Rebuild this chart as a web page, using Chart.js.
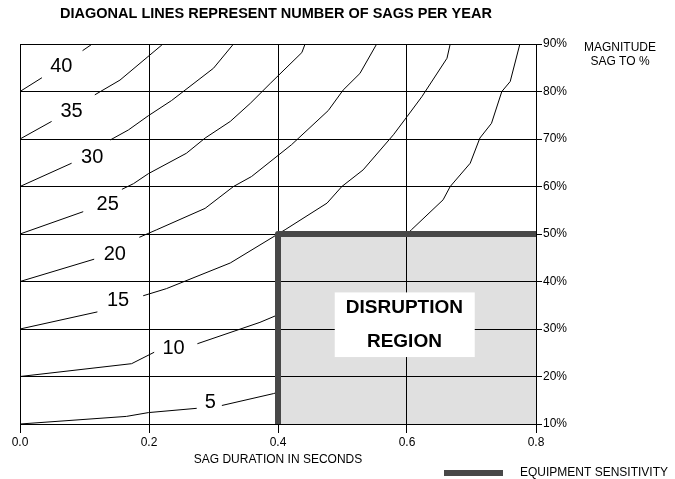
<!DOCTYPE html>
<html>
<head>
<meta charset="utf-8">
<script src="https://cdn.jsdelivr.net/npm/chart.js@4.4.1/dist/chart.umd.min.js"></script>
<style>
  html, body { margin: 0; padding: 0; background: #fff; }
  #wrap { width: 675px; height: 479px; position: relative; }
</style>
</head>
<body>
<div id="wrap"><canvas id="c"></canvas></div>
<script>
const FONT = "'Liberation Sans', Arial, sans-serif";

// sags per year curves: [duration s, magnitude %], null = break for the label
const sag5  = [[0, 10], [0.165, 11.6], [0.199, 12.4], [0.274, 13.3], null, [0.313, 13.9], [0.393, 16.4], [0.4, 16.7]];
const sag10 = [[0, 20], [0.173, 22.7], [0.208, 25.1], null, [0.275, 26.9], [0.372, 31.4], [0.4, 33], null,
               [0.6, 50], [0.607, 50.9], [0.656, 57.2], [0.667, 60], [0.698, 64.9], [0.713, 70.2], [0.731, 73.3],
               [0.747, 80], [0.760, 82.1], [0.775, 90]];
const sag15 = [[0, 30], [0.120, 33.6], null, [0.191, 37.0], [0.227, 38.5], [0.326, 43.9], [0.4, 50], [0.411, 50.9],
               [0.476, 56.5], [0.499, 60], [0.532, 63.5], [0.579, 70.9], [0.6, 74.7], [0.623, 78.9], [0.662, 87.0], [0.667, 90]];
const sag20 = [[0, 40], [0.115, 44.7], null, [0.185, 49.3], [0.212, 50.9], [0.287, 55.4], [0.331, 60], [0.359, 62.1],
               [0.421, 68.8], [0.478, 76.0], [0.501, 80.3], [0.527, 83.8], [0.553, 90]];
const sag25 = [[0, 50], [0.098, 54.7], null, [0.158, 59.4], [0.176, 60.6], [0.199, 62.7], [0.258, 67.0], [0.287, 70.2],
               [0.326, 73.7], [0.357, 77.5], [0.388, 81.7], [0.437, 88.2], [0.442, 90]];
const sag30 = [[0, 60], [0.080, 64.9], null, [0.140, 69.8], [0.168, 71.9], [0.199, 74.9], [0.235, 78.1], [0.300, 84.9], [0.331, 90]];
const sag35 = [[0, 70], [0.049, 73.7], null, [0.116, 79.3], [0.155, 82.4], [0.220, 89.8]];
const sag40 = [[0, 80], [0.034, 82.9], null, [0.097, 88.6], [0.112, 90]];

const sagLabels = ['5', '10', '15', '20', '25', '30', '35', '40'];
const sagLabelX = [0.295, 0.238, 0.152, 0.147, 0.136, 0.112, 0.080, 0.064];
const sagLabelY = [14.5, 26.0, 36.0, 45.7, 56.2, 66.1, 75.7, 85.2];

// equipment sensitivity / disruption region outline
const regionX = [0.4, 0.4, 0.8];
const regionY = [10, 50, 50];
const regionText = ['DISRUPTION', 'REGION'];
const regionTextX = 0.596;
const regionTextY = [34.5, 27.4];
const boxX = [0.488, 0.705];
const boxY = [24.1, 37.7];

const toPts = arr => arr.map((p, i) => p ? { x: p[0], y: p[1] } : { x: arr[i - 1][0], y: null });

const curves = [sag5, sag10, sag15, sag20, sag25, sag30, sag35, sag40].map((arr, i) => ({
  label: sagLabels[i],
  data: toPts(arr),
  borderColor: '#000',
  borderWidth: 1,
  pointRadius: 0,
  fill: false,
  order: 1
}));

const region = {
  label: 'EQUIPMENT SENSITIVITY',
  data: regionX.map((v, i) => ({ x: v, y: regionY[i] })),
  borderColor: '#484848',
  borderWidth: 6,
  borderJoinStyle: 'round',
  backgroundColor: 'rgba(0,0,0,0.12)',
  fill: 'start',
  pointRadius: 0,
  order: 0
};

const overlay = {
  id: 'overlay',
  afterDatasetsDraw(chart) {
    const { ctx, scales: { x, y } } = chart;
    ctx.save();
    const bx0 = x.getPixelForValue(boxX[0]), bx1 = x.getPixelForValue(boxX[1]);
    const by0 = y.getPixelForValue(boxY[1]), by1 = y.getPixelForValue(boxY[0]);
    ctx.fillStyle = '#fff';
    ctx.fillRect(bx0, by0, bx1 - bx0, by1 - by0);
    ctx.fillStyle = '#000';
    ctx.textAlign = 'center';
    ctx.textBaseline = 'middle';
    ctx.font = 'bold 19px ' + FONT;
    regionText.forEach((t, i) => ctx.fillText(t, x.getPixelForValue(regionTextX), y.getPixelForValue(regionTextY[i])));
    ctx.font = '20px ' + FONT;
    sagLabels.forEach((t, i) => ctx.fillText(t, x.getPixelForValue(sagLabelX[i]), y.getPixelForValue(sagLabelY[i])));
    ctx.restore();
  },
  afterDraw(chart) {
    const { ctx, chartArea: a } = chart;
    ctx.save();
    ctx.fillStyle = '#000';
    ctx.textAlign = 'center';
    ctx.textBaseline = 'middle';
    ctx.font = 'bold 14.5px ' + FONT;
    ctx.fillText('DIAGONAL LINES REPRESENT NUMBER OF SAGS PER YEAR', (a.left + a.right) / 2 - 2, 14);
    ctx.font = '12px ' + FONT;
    ctx.fillText('MAGNITUDE', 620, 48);
    ctx.fillText('SAG TO %', 620, 62);
    // legend
    ctx.fillStyle = region.borderColor;
    ctx.fillRect(444, 470, 59, 6);
    ctx.fillStyle = '#000';
    ctx.textAlign = 'left';
    ctx.fillText(region.label, 520, 473);
    ctx.restore();
  }
};

new Chart(document.getElementById('c'), {
  type: 'line',
  data: { datasets: [...curves, region] },
  options: {
    responsive: true, maintainAspectRatio: false,
    animation: false, events: [],
    layout: { padding: { left: 20, top: 44, right: 0, bottom: 0 } },
    plugins: { legend: { display: false }, tooltip: { enabled: false }, title: { display: false } },
    scales: {
      x: {
        type: 'linear', min: 0, max: 0.8,
        afterFit: s => { s.height = 55; },
        grid: { color: '#000', lineWidth: 1, tickLength: 9 },
        border: { color: '#000', width: 1 },
        ticks: { stepSize: 0.2, padding: 2, color: '#000', font: { size: 12, family: FONT }, maxRotation: 0,
                 callback: v => Number(v).toFixed(1) },
        title: { display: true, text: 'SAG DURATION IN SECONDS', color: '#000',
                 font: { size: 12, family: FONT }, padding: { top: 0, bottom: 12 } }
      },
      y: {
        type: 'linear', position: 'right', min: 10, max: 90,
        afterFit: s => { s.width = 139; },
        grid: { color: '#000', lineWidth: 1, tickLength: 6 },
        border: { color: '#000', width: 1 },
        ticks: { stepSize: 10, padding: 1, color: '#000', font: { size: 12, family: FONT },
                 callback: v => v + '%' }
      }
    }
  },
  plugins: [overlay]
});
</script>
</body>
</html>
